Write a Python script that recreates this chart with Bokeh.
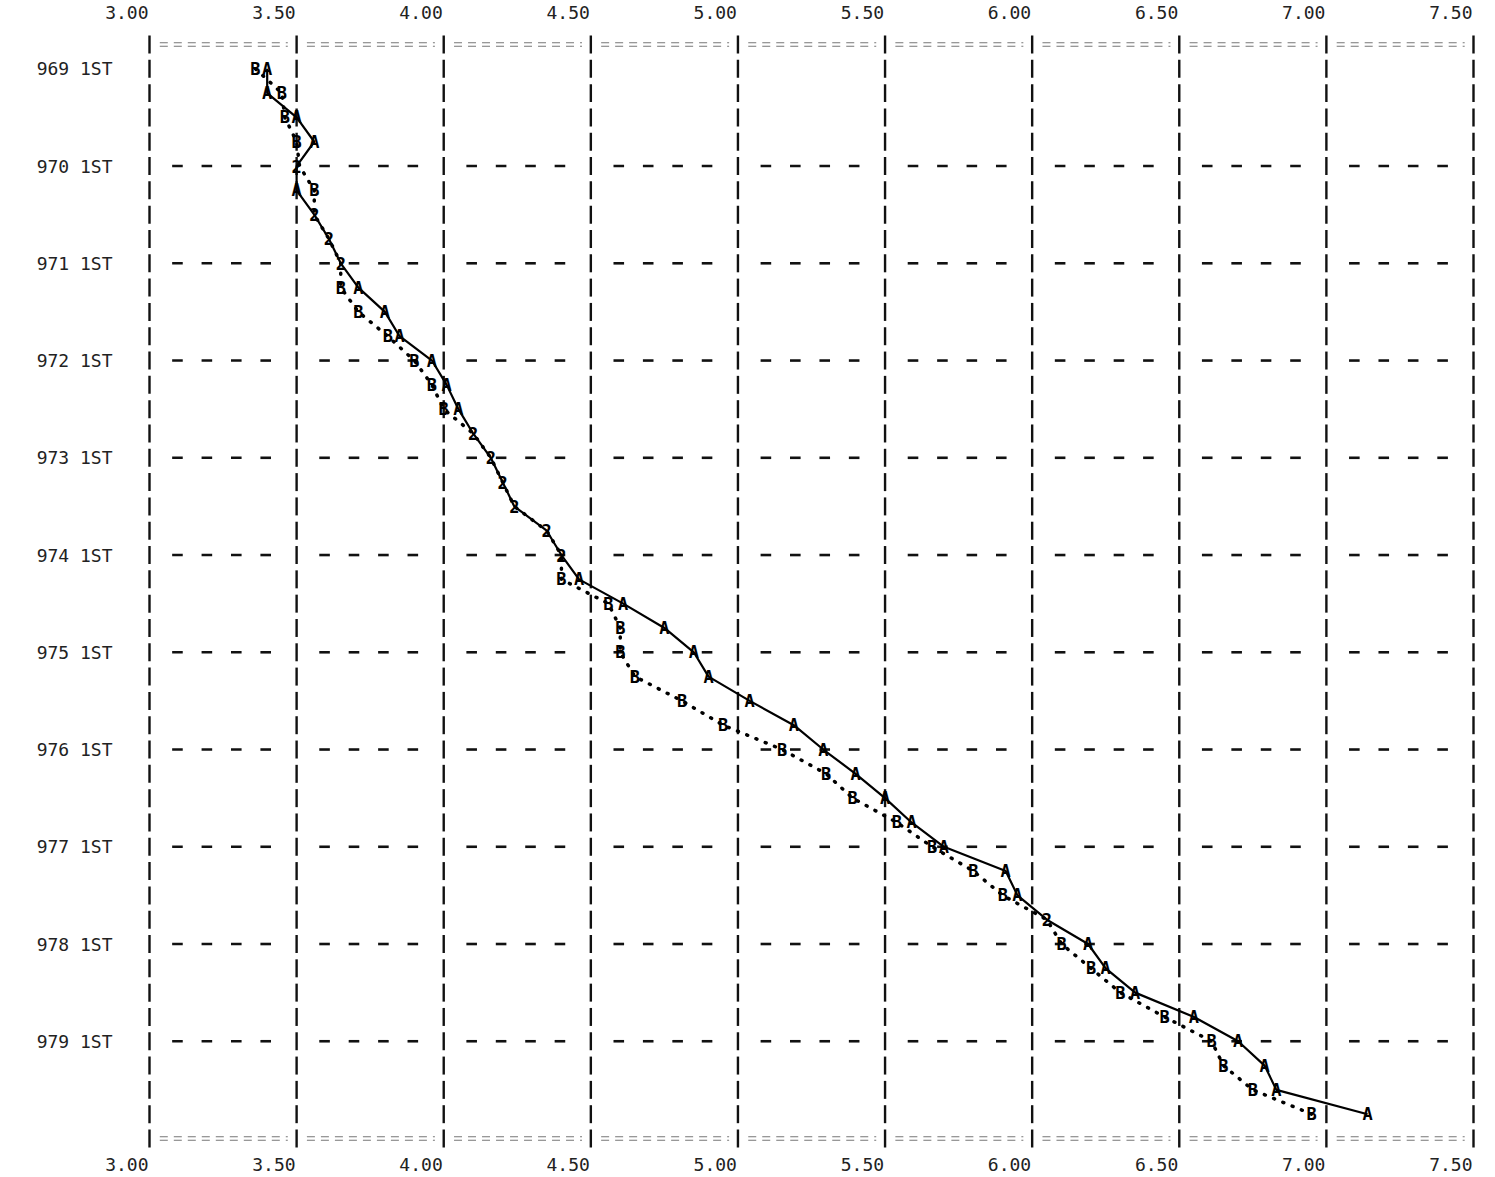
import numpy as np
from bokeh.plotting import figure
from bokeh.models import Range1d
from bokeh.core.properties import value
from bokeh.embed import file_html
from bokeh.resources import INLINE

# quarterly observations, 1969 Q1 .. 1979 Q4 (index 0 = 1969 1ST)
quarter_index = list(range(44))
series_a = [3.40, 3.40, 3.50, 3.56, 3.50, 3.50, 3.56, 3.61, 3.65, 3.71, 3.80, 3.85,
            3.96, 4.01, 4.05, 4.10, 4.16, 4.20, 4.24, 4.35, 4.40, 4.46, 4.61, 4.75,
            4.85, 4.90, 5.04, 5.19, 5.29, 5.40, 5.50, 5.59, 5.70, 5.91, 5.95, 6.05,
            6.19, 6.25, 6.35, 6.55, 6.70, 6.79, 6.83, 7.14]
series_b = [3.36, 3.45, 3.46, 3.50, 3.51, 3.56, 3.56, 3.61, 3.65, 3.65, 3.71, 3.81,
            3.90, 3.96, 4.00, 4.10, 4.16, 4.20, 4.24, 4.35, 4.40, 4.40, 4.56, 4.60,
            4.60, 4.65, 4.81, 4.95, 5.15, 5.30, 5.39, 5.54, 5.66, 5.80, 5.90, 6.05,
            6.10, 6.20, 6.30, 6.45, 6.61, 6.65, 6.75, 6.95]

x_ticks = [3.00, 3.50, 4.00, 4.50, 5.00, 5.50, 6.00, 6.50, 7.00, 7.50]
x_tick_labels = ["3.00", "3.50", "4.00", "4.50", "5.00", "5.50", "6.00", "6.50", "7.00", "7.50"]
year_rows = [0, 4, 8, 12, 16, 20, 24, 28, 32, 36, 40]
year_labels = ["969 1ST", "970 1ST", "971 1ST", "972 1ST", "973 1ST", "974 1ST",
               "975 1ST", "976 1ST", "977 1ST", "978 1ST", "979 1ST"]
grid_rows = [4, 8, 12, 16, 20, 24, 28, 32, 36, 40]

MONO = "DejaVu Sans Mono"

# the printed grid spans 3.00..7.50 and rows -1..44; the margins around it hold the labels
W, H = 1495, 1177
LEFT, RIGHT, TOP, BOTTOM = 149, 1473, 44, 1138
PX_X = (RIGHT - LEFT) / 4.5      # pixels per unit across
PX_Y = (BOTTOM - TOP) / 45.0     # pixels per print row
x0 = 3.0 - LEFT / PX_X
x1 = 7.5 + (W - RIGHT) / PX_X
y_top = -1 - TOP / PX_Y
y_bot = 44 + (H - BOTTOM) / PX_Y

p = figure(width=W, height=H, output_backend="svg", toolbar_location=None,
           x_range=Range1d(x0, x1), y_range=Range1d(y_bot, y_top),
           x_axis_location=None, y_axis_location=None,
           min_border=0, min_border_left=0, min_border_right=0,
           min_border_top=0, min_border_bottom=0)
p.outline_line_color = None
p.grid.visible = False
p.background_fill_color = "white"
p.border_fill_color = "white"

# vertical printer-style grid: one "|" per print row
vx, vy0, vy1 = [], [], []
for t in x_ticks:
    for r in range(-1, 45):
        vx.append(t); vy0.append(r - 0.37); vy1.append(r + 0.37)
p.segment(x0=vx, y0=vy0, x1=vx, y1=vy1, line_color="#111111", line_width=2.4)

# horizontal grid at each year: "-" every second character
hx0, hx1, hy = [], [], []
for r in grid_rows:
    for t in x_ticks[:-1]:
        for k in range(1, 5):
            c = t + 0.1 * k - 0.005
            hx0.append(c - 0.018); hx1.append(c + 0.018); hy.append(r)
p.segment(x0=hx0, y0=hy, x1=hx1, y1=hy, line_color="#111111", line_width=2.6)

# top / bottom border rows of "=" characters
for r in (-1, 44):
    for t in x_ticks[:-1]:
        for dy in (-0.07, 0.07):
            p.line([t + 0.035, t + 0.47], [r + dy, r + dy], line_color="#777777",
                   line_width=1.1, line_dash="8 6")

# series lines
p.line(series_a, quarter_index, line_color="black", line_width=2.2)
p.line(series_b, quarter_index, line_color="black", line_width=3.5, line_dash="1 9",
       line_cap="round")

# plotted characters
a = np.array(series_a); b = np.array(series_b); q = np.array(quarter_index)
both = np.abs(a - b) < 0.015
mk = dict(text_font=value(MONO), text_font_size="17px", text_font_style="bold",
          text_align="center", text_baseline="middle", text_color="black")
p.text(x=b[~both], y=q[~both], text=["B"] * int((~both).sum()), **mk)
p.text(x=a[~both], y=q[~both], text=["A"] * int((~both).sum()), **mk)
p.text(x=a[both], y=q[both], text=["2"] * int(both.sum()), **mk)

# axis texts
lab = dict(text_font=value(MONO), text_font_size="18px", text_color="#222222",
           text_baseline="middle", text_align="right")
p.text(x=x_ticks, y=[-2.32] * len(x_ticks), text=x_tick_labels, x_offset=-1, **lab)
p.text(x=x_ticks, y=[45.05] * len(x_ticks), text=x_tick_labels, x_offset=-1, **lab)
p.text(x=[3.0] * len(year_rows), y=year_rows, text=year_labels, x_offset=-37, **lab)

open("out.html", "w").write(file_html(p, INLINE))
